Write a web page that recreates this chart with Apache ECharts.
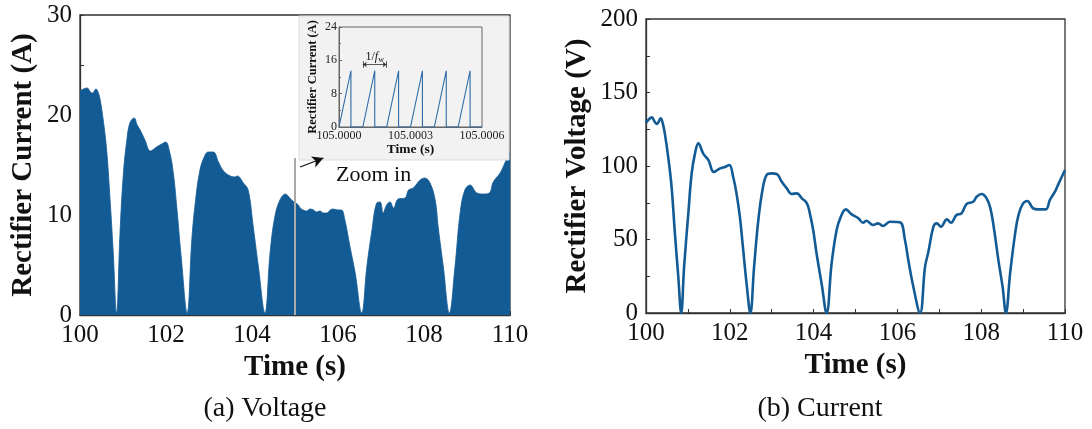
<!DOCTYPE html>
<html>
<head>
<meta charset="utf-8">
<script src="https://cdn.jsdelivr.net/npm/echarts@6/dist/echarts.min.js"></script>
<style>
html,body{margin:0;padding:0;background:#fff;}
#c{width:1092px;height:429px;}
</style>
</head>
<body>
<div id="c"></div>
<script>
// ---- Data ----
// (a) left panel: rectifier current vs time
const currentTime = [100.00,100.08,100.17,100.24,100.29,100.37,100.42,100.47,100.54,100.62,100.70,100.77,100.85,100.93,101.01,101.09,101.16,101.26,101.33,101.40,101.51,101.64,101.78,101.90,101.99,102.09,102.17,102.25,102.36,102.49,102.60,102.67,102.79,102.91,102.98,103.10,103.22,103.32,103.45,103.60,103.66,103.80,103.91,104.03,104.15,104.30,104.42,104.53,104.65,104.78,104.84,104.92,105.08,105.12,105.27,105.35,105.43,105.50,105.58,105.66,105.74,105.82,105.89,106.00,106.08,106.16,106.28,106.40,106.55,106.67,106.78,106.90,106.98,107.05,107.13,107.21,107.29,107.40,107.56,107.64,107.75,107.91,108.02,108.14,108.26,108.33,108.45,108.59,108.72,108.84,108.95,109.07,109.23,109.38,109.52,109.61,109.77,109.88,110.00];
const currentValues = [22.4,22.6,22.7,22.3,22.2,22.6,22.3,21.5,19.5,16.5,11.5,6.5,0.2,8.2,14.2,17.5,19.2,19.7,19.0,18.5,17.5,16.4,16.8,17.1,17.3,16.2,14.2,10.8,5.5,0.2,7.5,10.8,14.5,16.0,16.3,16.3,15.3,14.5,14.0,13.8,13.9,13.2,12.5,8.8,4.8,0.2,6.2,9.8,11.5,12.1,11.9,11.5,11.0,10.7,10.4,10.6,10.5,10.3,10.4,10.2,10.2,10.5,10.6,10.5,10.5,9.5,6.8,4.2,0.2,4.8,8.2,11.2,11.3,10.2,11.0,11.3,10.7,11.6,11.7,12.5,12.7,13.5,13.7,13.2,11.5,8.8,4.8,0.2,4.8,10.2,12.5,13.0,12.2,12.1,12.2,13.3,14.2,15.2,16.4];

// (b) right panel: rectifier voltage vs time
const voltageTime = [100.00,100.06,100.14,100.20,100.26,100.35,100.40,100.45,100.53,100.61,100.69,100.77,100.84,100.91,101.01,101.09,101.17,101.25,101.37,101.49,101.62,101.77,101.90,101.99,102.08,102.16,102.24,102.32,102.40,102.49,102.58,102.68,102.78,102.88,103.00,103.12,103.24,103.36,103.48,103.60,103.72,103.84,103.91,103.99,104.07,104.19,104.31,104.43,104.55,104.65,104.77,104.90,105.07,105.18,105.26,105.42,105.54,105.66,105.82,106.06,106.18,106.26,106.38,106.54,106.66,106.74,106.86,106.94,107.04,107.18,107.28,107.41,107.53,107.65,107.81,107.89,108.01,108.13,108.22,108.31,108.41,108.51,108.59,108.69,108.81,108.89,108.99,109.10,109.24,109.36,109.54,109.64,109.76,109.85,110.00];
const voltageValues = [129.5,131.5,133.1,130.5,128.6,132.4,129,122,106,86,54,25,0,31.5,67.8,95,108.6,115.4,108.2,104,96,98.4,99.5,100.7,92.7,81.4,65.5,42.9,20.2,0,31.5,63,83.7,93.9,95,94.6,89.3,84.8,81,81.4,78,74.6,67.8,56.5,40.6,20.2,0,33.8,56.5,65.5,70.5,67.3,64.4,61.4,62.8,59.9,61,59.2,62.1,61.7,49.7,36,17.9,0,31.5,41.7,58.7,61,58.7,63.7,61.4,66.7,67.8,74.1,75.7,79.1,81,78,71.2,56.5,36,17.9,0,27,54.2,66.7,74.1,76.2,71.2,70.5,70.5,76.9,82.5,88.2,97.3];

// inset: zoomed rectifier current (sawtooth)
const insetTime = [105.00000,105.00005,105.00005,105.00010,105.00015,105.00015,105.00020,105.00025,105.00025,105.00030,105.00035,105.00035,105.00040,105.00045,105.00045,105.00050,105.00055,105.00055,105.00060];
const insetCurrent = [0,13.5,0,0,13.5,0,0,13.5,0,0,13.5,0,0,13.5,0,0,13.5,0,0];

// tick labels / texts
const leftYLabel = 'Rectifier Current (A)';
const rightYLabel = 'Rectifier Voltage (V)';
const xLabel = 'Time (s)';
const captionA = '(a) Voltage';
const captionB = '(b) Current';
const zoomText = 'Zoom in';

// ---- Build ----
const F = "'Liberation Serif','Times New Roman',serif";
const BLUE = '#135b95';
const zip = (a, b) => a.map((v, i) => [v, b[i]]);

const chart = echarts.init(document.getElementById('c'), null, {renderer: 'canvas'});

const axisCommon = {
  axisLine: {show: true, lineStyle: {color: '#333', width: 1.3}},
  axisTick: {show: true, inside: true, length: 4, lineStyle: {color: '#333'}},
  minorTick: {show: true, splitNumber: 2, length: 4, lineStyle: {color: '#333'}},
  splitLine: {show: false},
  axisLabel: {fontFamily: F, fontSize: 25, color: '#111', margin: 8},
  nameTextStyle: {fontFamily: F, fontSize: 29, fontWeight: 'bold', color: '#111'}
};

const option = {
  animation: false,
  backgroundColor: '#fff',
  grid: [
    {left: 80, top: 15, width: 430, height: 300, show: true, borderColor: '#333', borderWidth: 1.3, backgroundColor: 'transparent'},
    {left: 646, top: 19, width: 419, height: 294, show: true, borderColor: '#333', borderWidth: 1.3, backgroundColor: 'transparent'},
    {left: 339, top: 27, width: 143, height: 100, show: true, borderColor: '#666', borderWidth: 1, backgroundColor: 'transparent', z: 6}
  ],
  xAxis: [
    Object.assign({}, axisCommon, {gridIndex: 0, type: 'value', min: 100, max: 110, interval: 2,
      name: xLabel, nameLocation: 'middle', nameGap: 30}),
    Object.assign({}, axisCommon, {gridIndex: 1, type: 'value', min: 100, max: 110, interval: 2,
      name: xLabel, nameLocation: 'middle', nameGap: 29}),
    {gridIndex: 2, type: 'value', min: 105, max: 105.0006, interval: 0.0003, z: 6,
      axisLine: {show: true, lineStyle: {color: '#666', width: 1}},
      axisTick: {show: false}, splitLine: {show: false},
      axisLabel: {fontFamily: F, fontSize: 12, color: '#222', margin: 3, formatter: v => v.toFixed(4)},
      name: xLabel, nameLocation: 'middle', nameGap: 16,
      nameTextStyle: {fontFamily: F, fontSize: 13.5, fontWeight: 'bold', color: '#111'}}
  ],
  yAxis: [
    Object.assign({}, axisCommon, {gridIndex: 0, type: 'value', min: 0, max: 30, interval: 10,
      name: leftYLabel, nameLocation: 'middle', nameGap: 42}),
    Object.assign({}, axisCommon, {gridIndex: 1, type: 'value', min: 0, max: 200, interval: 50,
      name: rightYLabel, nameLocation: 'middle', nameGap: 54}),
    {gridIndex: 2, type: 'value', min: 0, max: 24, interval: 8, z: 6,
      axisLine: {show: true, lineStyle: {color: '#666', width: 1}},
      axisTick: {show: true, inside: true, length: 3, lineStyle: {color: '#666'}},
      minorTick: {show: true, splitNumber: 2, length: 2, lineStyle: {color: '#666'}},
      splitLine: {show: false},
      axisLabel: {fontFamily: F, fontSize: 12, color: '#222', margin: 2},
      name: leftYLabel, nameLocation: 'middle', nameGap: 20,
      nameTextStyle: {fontFamily: F, fontSize: 12.5, fontWeight: 'bold', color: '#111'}}
  ],
  series: [
    {
      type: 'line', xAxisIndex: 0, yAxisIndex: 0, z: 2,
      data: zip(currentTime, currentValues), showSymbol: false, symbol: 'none',
      smooth: 0.4,
      lineStyle: {color: BLUE, width: 0.8}, areaStyle: {color: BLUE, opacity: 1},
      markLine: {silent: true, symbol: ['none', 'none'], label: {show: false},
        lineStyle: {color: '#aaaaaa', width: 2, type: 'solid'},
        data: [[{coord: [105, 0]}, {coord: [105, 15.7]}]]}
    },
    {
      type: 'line', xAxisIndex: 1, yAxisIndex: 1,
      data: zip(voltageTime, voltageValues), showSymbol: false, symbol: 'none',
      smooth: 0.4,
      lineStyle: {color: BLUE, width: 2.6, join: 'round'}
    },
    {
      type: 'line', xAxisIndex: 0, yAxisIndex: 0, z: 8, data: [], symbol: 'none',
      markLine: {silent: true, symbol: ['none', 'arrow'], symbolSize: [9, 11], label: {show: false},
        lineStyle: {color: '#111', width: 1.3, type: 'solid'},
        data: [[{coord: [105.12, 14.8]}, {coord: [105.66, 15.7]}]]}
    },
    {
      type: 'line', xAxisIndex: 2, yAxisIndex: 2, z: 7,
      data: zip(insetTime, insetCurrent), showSymbol: false, symbol: 'none',
      lineStyle: {color: '#2b6aa6', width: 1.1},
      markLine: {silent: true, symbol: ['arrow', 'arrow'], symbolSize: 4,
        lineStyle: {color: '#333', width: 0.8, type: 'solid'},
        label: {show: true, position: 'middle', distance: 1, fontFamily: F, fontSize: 12, color: '#111',
          formatter: '{a|1/}{b|f}{c|w}',
          rich: {a: {fontFamily: F, fontSize: 12}, b: {fontFamily: F, fontSize: 12, fontStyle: 'italic'},
                 c: {fontFamily: F, fontSize: 8, verticalAlign: 'bottom', padding: [6, 0, 0, 0]}}},
        data: [
          [{coord: [105.0001, 15]}, {coord: [105.0002, 15]}],
          [{coord: [105.0001, 14.2], symbol: 'none', label: {show: false}}, {coord: [105.0001, 15.8], symbol: 'none'}],
          [{coord: [105.0002, 14.2], symbol: 'none', label: {show: false}}, {coord: [105.0002, 15.8], symbol: 'none'}]
        ]}
    }
  ],
  graphic: [
    {type: 'rect', z: 5, shape: {x: 299, y: 16, width: 210, height: 144},
      style: {fill: '#f2f2f2', stroke: '#dddddd', lineWidth: 1}},
    {type: 'text', z: 8, left: 336, top: 164,
      style: {text: zoomText, font: "22px 'Liberation Serif', serif", fill: '#111'}},
    {type: 'text', z: 8, x: 265, y: 409,
      style: {text: captionA, font: "28px 'Liberation Serif', serif", fill: '#111', textAlign: 'center', textVerticalAlign: 'middle'}},
    {type: 'text', z: 8, x: 820, y: 409,
      style: {text: captionB, font: "28px 'Liberation Serif', serif", fill: '#111', textAlign: 'center', textVerticalAlign: 'middle'}}
  ]
};
chart.setOption(option);
</script>
</body>
</html>
